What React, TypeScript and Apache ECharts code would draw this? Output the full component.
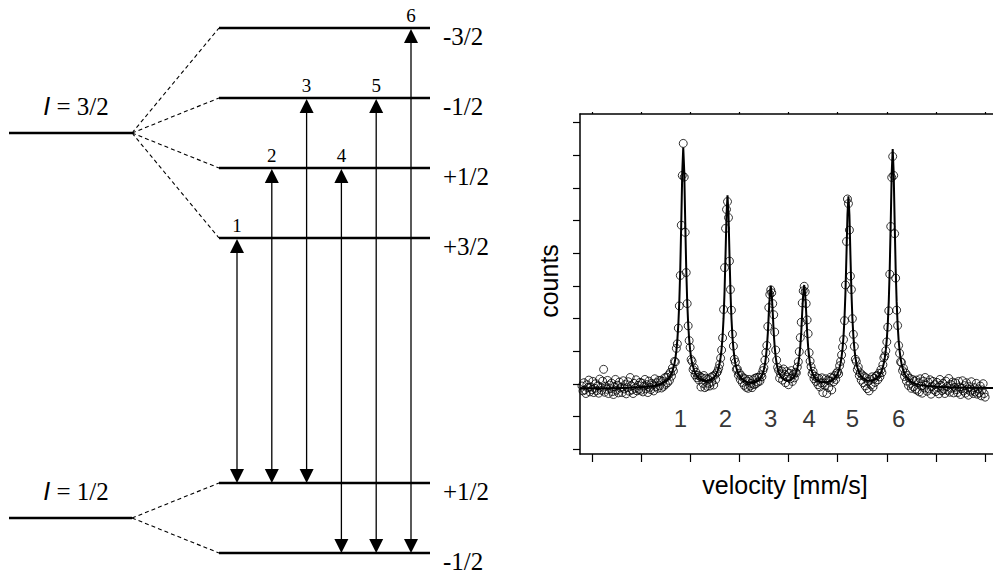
import React, { useEffect, useRef } from "react";
import * as echarts from "echarts";

// ---------- Mössbauer spectrum (right panel) ----------
// Channels are evenly spaced in velocity (mm/s); counts are in relative units.
const channelStart = -10.5;
const channelStep = 0.05;
const counts: number[] = [
  -0.6, -2.1, 0.4, -1.8, -2.9, -0.2, -1.1, 1.2, -2.4, -0.9, -1.7, 0.8, -2.6, -1.3, 0.1, -2.0, -0.5, -2.8, 1.5, -1.0,
  -1.9, 0.9, 4.5, -2.5, -0.7, -1.6, 1.1, -2.9, -0.3, -1.4, 0.3, -2.3, -3.2, -0.8, 1.4, -1.9, -0.4, -2.7, 0.6, -1.2,
  -0.9, -2.6, 1.0, -1.5, -0.2, -3.0, -1.1, 0.7, -2.2, 2.0, -0.6, -1.8, -2.9, 0.2, -1.3, 1.3, -2.1, -0.4, -1.6, 0.5,
  -1.9, 0.3, -2.4, -0.6, 1.4, -1.5, -0.2, -2.6, 0.9, -1.0, -1.7, 0.2, -0.3, -2.1, 1.6, -0.8, 0.4, -1.3, 1.1, -0.5,
  1.1, -1.2, 0.8, -0.7, 1.9, -0.1, 2.1, 0.4, 2.8, 1.1, 3.6, 2.4, 4.9, 4.0, 6.9, 6.8, 10.9, 12.3, 17.1, 23.9,
  33.2, 48.6, 63.8, 73.6, 63.3, 46.4, 34.1, 24.6, 17.8, 13.3, 11.2, 7.5, 6.9, 4.4, 5.0, 2.8, 3.6, 1.9, 2.7, 1.2,
  2.3, -0.9, 1.9, 0.2, 2.6, -1.1, 1.8, -0.7, 1.5, 0.2, -0.6, 2.0, 0.6, 2.4, -0.3, 2.7, 1.4, 3.4, 3.9, 4.8,
  6.0, 7.9, 10.4, 14.1, 22.8, 35.6, 47.6, 53.4, 55.8, 50.9, 37.6, 28.9, 22.6, 15.3, 11.6, 7.6, 6.7, 4.5, 4.6, 2.7,
  3.3, 1.4, 2.6, 0.5, 1.9, -0.4, 1.6, -1.0, 0.9, -1.3, 1.4, -0.6, 0.2, -1.1, 1.3, -0.2, 1.8, 0.1, 2.0, 0.6,
  2.1, 0.9, 2.8, 2.2, 4.1, 5.0, 7.3, 9.6, 11.8, 17.6, 23.4, 27.4, 28.8, 27.9, 24.6, 21.2, 15.9, 10.4, 7.3, 5.1,
  4.2, 1.8, 3.1, 4.0, 1.2, 4.6, 2.9, 0.4, 3.8, 2.1, -0.2, 3.3, 1.6, 4.1, 0.8, 2.9, 1.9, 3.6, 3.4, 5.2,
  6.8, 9.9, 14.2, 18.9, 24.8, 28.5, 29.9, 28.2, 24.6, 19.6, 15.4, 9.6, 7.0, 5.3, 3.1, 3.9, 1.6, 2.4, 0.8, 1.9,
  -0.2, 1.7, -0.9, 0.4, 1.9, -2.6, 0.3, -0.4, 1.6, -2.9, 1.2, -1.1, 0.9, 2.1, -1.8, 1.8, 0.7, 2.6, 1.4, 3.3,
  3.8, 3.1, 5.6, 6.9, 8.9, 11.3, 13.6, 19.4, 30.3, 43.6, 56.6, 55.2, 47.1, 33.0, 28.9, 20.0, 15.2, 11.5, 7.6, 6.9,
  4.4, 5.2, 2.6, 3.4, 1.2, 2.8, 0.4, 2.3, -0.6, 1.9, -1.4, 0.8, -2.1, 1.5, -0.3, 2.2, -0.9, 1.7, 0.5, 2.4,
  2.6, 1.3, 3.3, 2.2, 4.4, 3.5, 5.9, 8.0, 8.6, 10.2, 12.9, 17.4, 22.4, 33.6, 48.2, 63.2, 69.6, 63.8, 46.0, 32.4,
  22.6, 17.9, 11.8, 9.4, 6.8, 6.6, 4.1, 4.8, 2.3, 3.4, 0.9, 2.6, -0.4, 1.8, 0.2, -1.3, 1.4, -0.8, 0.9, -1.6,
  1.2, -1.9, 0.4, -2.4, 1.6, -0.6, -2.8, 0.9, -1.2, 2.0, -0.3, -2.2, 0.6, -1.5, 1.3, -3.1, -0.7, 0.8, -1.8, -0.2,
  -2.3, 0.5, -1.1, -3.0, 1.4, -0.4, -2.0, 0.2, -1.6, -2.9, 0.9, -0.8, -1.9, 1.7, -2.5, -0.1, -1.3, 0.6, -2.7, -1.0,
  0.3, -1.7, -2.6, 0.8, -0.9, -3.2, -1.4, 1.0, -2.1, -0.5, -2.8, 0.4, -1.6, -3.4, -0.8, -2.2, 0.7, -1.9, -2.9, -1.1,
  -2.4, 0.2, -3.1, -1.5, -2.7, -0.6, -3.6, -1.8, 0.1, -2.9, -4.0,
];

// Fitted sextet
const fitVelocity: number[] = [
  -10.6, -9.0, -8.0, -7.5, -7.0, -6.7, -6.5, -6.4, -6.3, -6.2, -6.1, -6.0, -5.9, -5.8, -5.75, -5.7, -5.65, -5.6,
  -5.55, -5.5, -5.45, -5.4, -5.35, -5.3, -5.25, -5.2, -5.15, -5.1, -5.05, -5.0, -4.95, -4.9, -4.8, -4.7, -4.6,
  -4.5, -4.4, -4.3, -4.2, -4.1, -4.0, -3.9, -3.8, -3.7, -3.6, -3.55, -3.5, -3.45, -3.4, -3.35, -3.3, -3.25, -3.2,
  -3.15, -3.1, -3.05, -3.0, -2.95, -2.9, -2.85, -2.8, -2.75, -2.7, -2.65, -2.6, -2.5, -2.4, -2.3, -2.2, -2.1, -2.0,
  -1.9, -1.8, -1.7, -1.6, -1.5, -1.45, -1.4, -1.35, -1.3, -1.25, -1.2, -1.15, -1.1, -1.05, -1.0, -0.95, -0.9,
  -0.85, -0.8, -0.75, -0.7, -0.65, -0.6, -0.55, -0.5, -0.4, -0.3, -0.2, -0.1, 0.0, 0.1, 0.2, 0.3, 0.35, 0.4, 0.45,
  0.5, 0.55, 0.6, 0.65, 0.7, 0.75, 0.8, 0.85, 0.9, 0.95, 1.0, 1.05, 1.1, 1.15, 1.2, 1.3, 1.4, 1.5, 1.6, 1.7, 1.8,
  1.9, 2.0, 2.1, 2.2, 2.3, 2.4, 2.45, 2.5, 2.55, 2.6, 2.65, 2.7, 2.75, 2.8, 2.85, 2.9, 2.95, 3.0, 3.05, 3.1, 3.15,
  3.2, 3.25, 3.3, 3.35, 3.4, 3.45, 3.5, 3.6, 3.7, 3.8, 3.9, 4.0, 4.1, 4.2, 4.3, 4.4, 4.5, 4.6, 4.65, 4.7, 4.75,
  4.8, 4.85, 4.9, 4.95, 5.0, 5.05, 5.1, 5.15, 5.2, 5.25, 5.3, 5.35, 5.4, 5.45, 5.5, 5.55, 5.6, 5.65, 5.7, 5.75,
  5.8, 5.9, 6.0, 6.1, 6.2, 6.3, 6.4, 6.5, 6.7, 7.0, 7.5, 8.0, 9.0, 10.4,
];
const fitCounts: number[] = [
  -1.3, -1.27, -1.12, -1.0, -0.75, -0.4, -0.01, 0.23, 0.55, 0.99, 1.61, 2.5, 3.88, 6.15, 7.85, 10.21, 13.5, 18.27,
  25.27, 35.56, 49.69, 64.96, 72.35, 65.07, 49.81, 35.7, 25.42, 18.43, 13.7, 10.43, 8.09, 6.41, 4.19, 2.88, 2.06,
  1.53, 1.2, 1.02, 0.95, 0.98, 1.12, 1.42, 1.91, 2.71, 4.03, 5.02, 6.34, 8.21, 10.79, 14.57, 20.15, 28.33, 39.62,
  51.7, 57.74, 51.83, 39.72, 28.42, 20.21, 14.61, 10.8, 8.2, 6.3, 4.96, 3.98, 2.6, 1.76, 1.21, 0.85, 0.63, 0.5,
  0.45, 0.48, 0.61, 0.88, 1.33, 1.65, 2.08, 2.66, 3.43, 4.46, 5.94, 8.08, 11.11, 15.5, 21.68, 27.07, 30.0,
  27.29, 21.89, 15.7, 11.32, 8.29, 6.17, 4.7, 3.67, 2.35, 1.63, 1.23, 1.04, 1.04, 1.23, 1.63, 2.35, 2.91, 3.67, 4.7,
  6.2, 8.3, 11.4, 15.8, 22.1, 27.5, 30.3, 27.47, 22.07, 15.78, 11.39, 8.29, 6.16, 4.67, 3.62, 2.24, 1.46, 1.0, 0.72, 0.56, 0.51,
  0.52, 0.6, 0.78, 1.06, 1.5, 2.19, 2.66, 3.25, 4.03, 5.04, 6.38, 8.28, 10.87, 14.67, 20.27, 28.46, 39.76, 51.86, 57.46, 51.65, 39.55,
  28.37, 20.19, 14.65, 10.89, 8.3, 6.45, 5.12, 3.38, 2.36, 1.73, 1.34, 1.12, 1.04, 1.06, 1.19, 1.44, 1.85, 2.49, 2.95, 3.52, 4.25,
  5.2, 6.45, 8.12, 10.44, 13.68, 18.38, 25.31, 35.5, 49.51, 64.62, 71.91, 64.58, 49.44, 35.41, 25.2, 18.25, 13.52, 10.25, 7.91, 6.21,
  4.93, 3.19, 2.09, 1.36, 0.85, 0.46, 0.19, -0.03, -0.33, -0.6, -0.85, -0.97, -1.1, -1.18,
];

const lineNumbers = ["1", "2", "3", "4", "5", "6"];
const lineNumberVelocity = [-5.5, -3.2, -0.9, 1.05, 3.25, 5.6];
const lineNumberCounts = -10.4;

const velocityTicks = [-10, -7.5, -5, -2.5, 0, 2.5, 5, 7.5, 10];
const countTicks = [-20, -10, 0, 10, 20, 30, 40, 50, 60, 70, 80];

// ---------- Nuclear level scheme (left panel) ----------
// Energies in units of the sublevel spacing; the ground state sits at 0.
const excitedSpin = "I = 3/2";
const groundSpin = "I = 1/2";
const excitedCentre = 5.5;
const groundCentre = 0;
const excitedM = ["-3/2", "-1/2", "+1/2", "+3/2"];
const excitedEnergies = [7.0, 6.0, 5.0, 4.0];
const groundM = ["+1/2", "-1/2"];
const groundEnergies = [0.5, -0.5];
// transition k: ground sublevel index -> excited sublevel index
const transitionFrom = [0, 0, 0, 1, 1, 1];
const transitionTo = [3, 2, 1, 2, 1, 0];

const SERIF = "'Liberation Serif', 'Times New Roman', serif";
const SANS = "'Liberation Sans', Arial, sans-serif";

// diagram layout (x in the diagram grid's own units)
const L = {
  baseX0: 9,
  baseX1: 132,
  subX0: 219,
  subX1: 430,
  mLabelX: 443,
  spinLabelX: 76,
  arrowX0: 237,
  arrowDX: 34.8,
};

const levelNames = [excitedSpin, groundSpin, ...excitedM, ...groundM];
const levelData = [
  [excitedCentre, excitedCentre, 0],
  [groundCentre, groundCentre, 0],
  ...excitedEnergies.map((e) => [e, excitedCentre, 1]),
  ...groundEnergies.map((e) => [e, groundCentre, 1]),
];
const transitionData = transitionFrom.map((g, k) => [groundEnergies[g], excitedEnergies[transitionTo[k]]]);

export default function App() {
  const ref = useRef<HTMLDivElement>(null);

  useEffect(() => {
    document.body.style.margin = "0";
    if (!ref.current) return;
    const chart = echarts.init(ref.current, undefined, { renderer: "svg" });

    const renderLevel = (params: any, api: any) => {
      const e = api.value(0) as number;
      const parent = api.value(1) as number;
      const kind = api.value(2) as number;
      const name = levelNames[params.dataIndex];
      if (kind === 0) {
        const a = api.coord([L.baseX0, e]);
        const b = api.coord([L.baseX1, e]);
        const t = api.coord([L.spinLabelX, e]);
        return {
          type: "group",
          children: [
            { type: "line", shape: { x1: a[0], y1: a[1], x2: b[0], y2: b[1] }, style: { stroke: "#000", lineWidth: 2.6 } },
            {
              type: "text",
              x: t[0],
              y: t[1] - 27,
              style: {
                text: "{it|I}{rm|" + name.slice(1) + "}",
                align: "center",
                verticalAlign: "middle",
                rich: {
                  it: { fontStyle: "italic", fontSize: 25, fontFamily: SANS, fill: "#000" },
                  rm: { fontSize: 25, fontFamily: SERIF, fill: "#000" },
                },
              },
            },
          ],
        };
      }
      const a = api.coord([L.subX0, e]);
      const b = api.coord([L.subX1, e]);
      const c = api.coord([L.baseX1, parent]);
      const t = api.coord([L.mLabelX, e]);
      return {
        type: "group",
        children: [
          {
            type: "line",
            shape: { x1: c[0], y1: c[1], x2: a[0], y2: a[1] },
            style: { stroke: "#000", lineWidth: 1.1, lineDash: [4, 3] },
          },
          { type: "line", shape: { x1: a[0], y1: a[1], x2: b[0], y2: b[1] }, style: { stroke: "#000", lineWidth: 2.6 } },
          {
            type: "text",
            x: t[0],
            y: t[1] + 8,
            style: { text: name, fontSize: 25, fontFamily: SERIF, fill: "#000", align: "left", verticalAlign: "middle" },
          },
        ],
      };
    };

    const renderTransition = (params: any, api: any) => {
      const k = params.dataIndex;
      const x = L.arrowX0 + k * L.arrowDX;
      const bot = api.coord([x, api.value(0)]);
      const top = api.coord([x, api.value(1)]);
      const px = top[0];
      const yt = top[1];
      const yb = bot[1];
      return {
        type: "group",
        children: [
          { type: "line", shape: { x1: px, y1: yt + 10, x2: px, y2: yb - 10 }, style: { stroke: "#000", lineWidth: 1.3 } },
          {
            type: "polygon",
            shape: { points: [[px, yt + 1], [px - 7, yt + 15], [px + 7, yt + 15]] },
            style: { fill: "#000" },
          },
          {
            type: "polygon",
            shape: { points: [[px, yb], [px - 7, yb - 14], [px + 7, yb - 14]] },
            style: { fill: "#000" },
          },
          {
            type: "text",
            x: px,
            y: yt - 13,
            style: { text: lineNumbers[k], fontSize: 19, fontFamily: SERIF, fill: "#000", align: "center", verticalAlign: "middle" },
          },
        ],
      };
    };

    const spectrumAxisLine = { show: true, onZero: false, lineStyle: { color: "#000", width: 1.5 } };

    chart.setOption({
      animation: false,
      backgroundColor: "#fff",
      textStyle: { fontFamily: SANS },
      grid: [
        { left: 0, top: 0, width: 460, height: 574 },
        { left: 580, top: 114, width: 420, height: 340 },
      ],
      xAxis: [
        { gridIndex: 0, type: "value", min: 0, max: 460, show: false },
        {
          gridIndex: 1,
          type: "value",
          min: -10.6,
          max: 10.4,
          position: "bottom",
          axisLine: spectrumAxisLine,
          axisTick: { show: true, inside: false, length: 8, customValues: velocityTicks, lineStyle: { color: "#000", width: 1.2 } },
          axisLabel: { show: false },
          splitLine: { show: false },
        },
        {
          gridIndex: 1,
          type: "value",
          min: -10.6,
          max: 10.4,
          position: "top",
          axisLine: spectrumAxisLine,
          axisTick: { show: true, inside: false, length: 2, customValues: velocityTicks, lineStyle: { color: "#000", width: 1.2 } },
          axisLabel: { show: false },
          splitLine: { show: false },
        },
      ],
      yAxis: [
        { gridIndex: 0, type: "value", min: -0.8, max: 7.4, show: false },
        {
          gridIndex: 1,
          type: "value",
          min: -21.4,
          max: 82.6,
          position: "left",
          axisLine: spectrumAxisLine,
          axisTick: { show: true, inside: false, length: 7, customValues: countTicks, lineStyle: { color: "#000", width: 1.2 } },
          axisLabel: { show: false },
          splitLine: { show: false },
        },
      ],
      graphic: [
        {
          type: "text",
          x: 549,
          y: 281,
          rotation: Math.PI / 2,
          style: { text: "counts", fontSize: 25, fontFamily: SANS, fill: "#000", align: "center", verticalAlign: "middle" },
        },
        {
          type: "text",
          x: 785,
          y: 485,
          style: { text: "velocity [mm/s]", fontSize: 25, fontFamily: SANS, fill: "#000", align: "center", verticalAlign: "middle" },
        },
      ],
      series: [
        {
          type: "custom",
          xAxisIndex: 0,
          yAxisIndex: 0,
          renderItem: renderLevel,
          data: levelData,
          silent: true,
        },
        {
          type: "custom",
          xAxisIndex: 0,
          yAxisIndex: 0,
          renderItem: renderTransition,
          data: transitionData,
          silent: true,
        },
        {
          type: "scatter",
          xAxisIndex: 1,
          yAxisIndex: 1,
          symbol: "circle",
          symbolSize: 8,
          itemStyle: { color: "rgba(0,0,0,0)", borderColor: "#000", borderWidth: 1 },
          data: counts.map((c, i) => [channelStart + i * channelStep, c]),
          z: 2,
        },
        {
          type: "line",
          xAxisIndex: 1,
          yAxisIndex: 1,
          showSymbol: false,
          symbol: "none",
          lineStyle: { color: "#000", width: 2 },
          data: fitVelocity.map((v, i) => [v, fitCounts[i]]),
          z: 3,
        },
        {
          type: "scatter",
          xAxisIndex: 1,
          yAxisIndex: 1,
          symbolSize: 0,
          label: {
            show: true,
            position: "inside",
            formatter: (p: any) => lineNumbers[p.dataIndex],
            fontSize: 24,
            fontFamily: SANS,
            color: "#000",
          },
          data: lineNumberVelocity.map((v) => [v, lineNumberCounts]),
          z: 4,
        },
      ],
    });

    return () => chart.dispose();
  }, []);

  return <div ref={ref} style={{ width: 993, height: 574 }} />;
}
